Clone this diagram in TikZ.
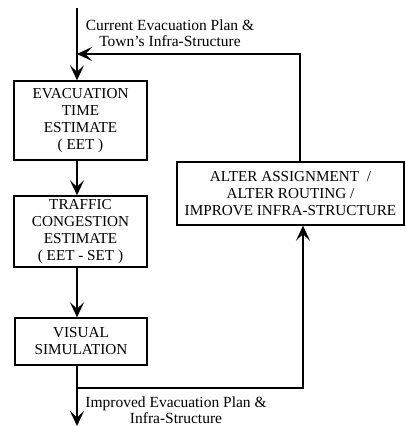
\documentclass[tikz,border=0pt]{standalone}
\usepackage{fontspec}
\setmainfont{Liberation Serif}
\usetikzlibrary{arrows.meta}
\begin{document}
\begin{tikzpicture}[x=1pt,y=-1pt,
  box/.style={draw,line width=1.4pt,rectangle,inner sep=0pt,align=center,
    font=\fontsize{15.2}{17}\selectfont},
  lbl/.style={align=center,inner sep=0pt,font=\fontsize{15.5}{15.5}\selectfont},
  flow/.style={line width=1.7pt,-{Stealth[length=15pt,width=14pt,inset=6.5pt]}},
  fb/.style={line width=1.2pt,-{Stealth[length=15pt,width=14pt,inset=6.5pt]}}]
\useasboundingbox (0,0) rectangle (406,426);
\node[box,minimum width=133pt,minimum height=79pt] (eet) at (80.5,120.5)
  {EVACUATION\\TIME\\ESTIMATE\\( EET )};
\node[box,minimum width=133pt,minimum height=71pt] (tce) at (80.5,231.5)
  {TRAFFIC\\CONGESTION\\ESTIMATE\\( EET - SET )};
\node[box,minimum width=132pt,minimum height=47pt] (vis) at (81,341.5)
  {VISUAL\\SIMULATION};
\node[box,minimum width=227pt,minimum height=63pt] (alter) at (290.5,193.5)
  {ALTER ASSIGNMENT \ /\\ALTER ROUTING /\\IMPROVE INFRA-STRUCTURE};
\coordinate (top) at (77,8);
\coordinate (join) at (77,54);
\coordinate (fbc) at (300,54);
\coordinate (bj) at (77,388);
\coordinate (bc) at (303,388);
\coordinate (bottom) at (77,426);
\node[lbl] (l1) at (170,33) {Current Evacuation Plan \&\\Town's Infra-Structure};
\node[lbl] (l2) at (176,410) {Improved Evacuation Plan \&\\Infra-Structure};
\draw[flow] (top) -- (eet.north -| top);
\draw[fb] (alter.north -| fbc) -- (fbc) -- (join);
\draw[flow] (eet.south -| top) -- (tce.north -| top);
\draw[flow] (tce.south -| top) -- (vis.north -| top);
\draw[flow] (vis.south -| top) -- (bottom);
\draw[fb] (bj) -- (bc) -- (alter.south -| bc);
\end{tikzpicture}
\end{document}
